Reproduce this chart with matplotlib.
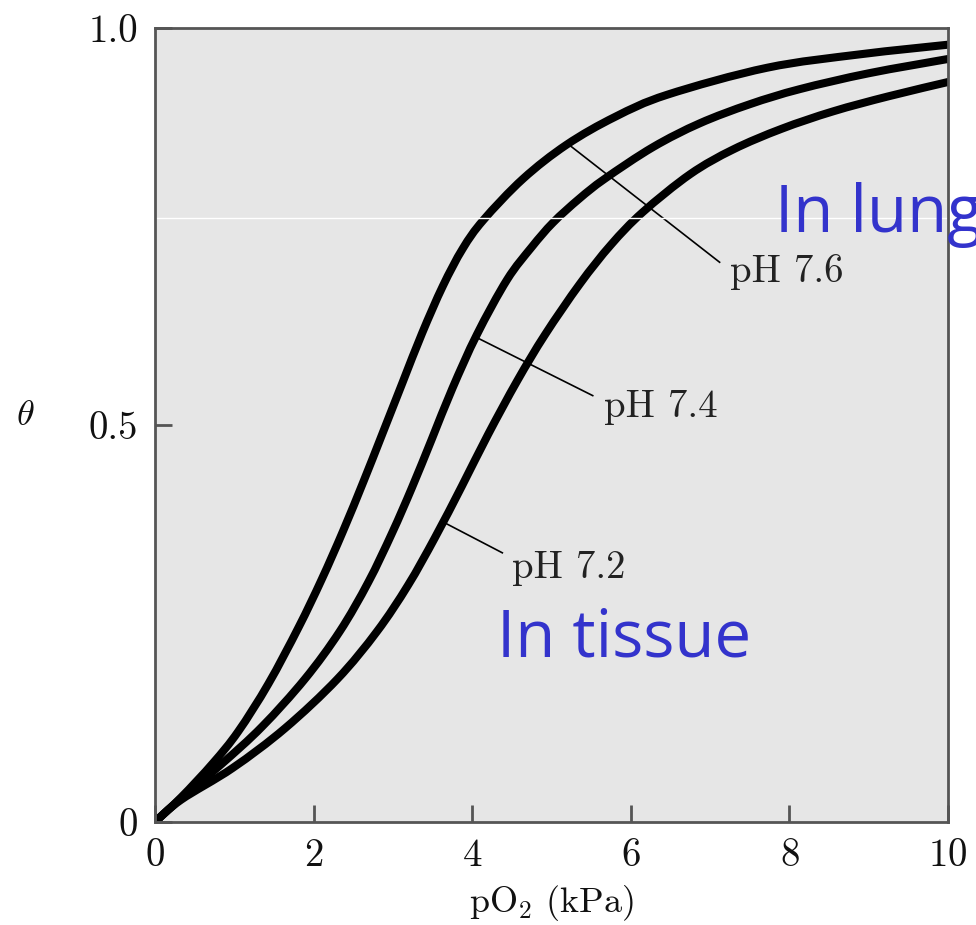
import matplotlib
matplotlib.use('Agg')
import matplotlib.pyplot as plt
from matplotlib.path import Path
from matplotlib.patches import PathPatch

# oxygen binding curves (pO2 in kPa, fractional saturation)
p_76 = [0, 0.33, 0.73, 1.05, 1.43, 1.81, 2.10, 2.37, 2.63, 2.86, 3.12, 3.37, 3.63, 3.88, 4.14, 4.64, 5.19, 5.80, 6.46, 7.72, 8.90, 10]
t_76 = [0, 0.031, 0.074, 0.114, 0.174, 0.245, 0.305, 0.366, 0.429, 0.487, 0.553, 0.616, 0.675, 0.722, 0.758, 0.810, 0.853, 0.888, 0.916, 0.950, 0.967, 0.979]

p_74 = [0, 0.33, 0.84, 1.35, 1.89, 2.33, 2.69, 2.99, 3.24, 3.49, 3.75, 4.06, 4.44, 4.75, 5.02, 5.35, 5.67, 6.28, 6.87, 7.50, 8.13, 9.00, 10]
t_74 = [0, 0.030, 0.073, 0.120, 0.180, 0.240, 0.302, 0.364, 0.421, 0.482, 0.546, 0.614, 0.683, 0.724, 0.755, 0.785, 0.810, 0.850, 0.880, 0.904, 0.923, 0.943, 0.961]

p_72 = [0, 0.33, 0.98, 1.64, 2.30, 2.80, 3.19, 3.53, 3.87, 4.20, 4.57, 4.92, 5.36, 5.75, 6.15, 6.75, 7.29, 7.90, 8.55, 9.25, 10]
t_72 = [0, 0.028, 0.068, 0.118, 0.180, 0.240, 0.298, 0.358, 0.423, 0.488, 0.556, 0.614, 0.678, 0.727, 0.768, 0.816, 0.847, 0.873, 0.895, 0.914, 0.932]

labels = ['pH 7.6', 'pH 7.4', 'pH 7.2']
# (curve point, line end) for each leader
leaders = [((5.22, 0.853), (7.12, 0.705)),
           ((4.06, 0.610), (5.52, 0.537)),
           ((3.63, 0.378), (4.38, 0.339))]
label_pos = [(7.25, 0.693), (5.66, 0.523), (4.50, 0.320)]


def smooth_path(xs, ys):
    # bezier segments through the read points (Catmull-Rom style handles)
    pts = list(zip(xs, ys))
    verts = [pts[0]]
    codes = [Path.MOVETO]
    n = len(pts)
    for i in range(n - 1):
        p0 = pts[max(i - 1, 0)]
        p1 = pts[i]
        p2 = pts[i + 1]
        p3 = pts[min(i + 2, n - 1)]
        c1 = (p1[0] + (p2[0] - p0[0]) / 6, p1[1] + (p2[1] - p0[1]) / 6)
        c2 = (p2[0] - (p3[0] - p1[0]) / 6, p2[1] - (p3[1] - p1[1]) / 6)
        verts += [c1, c2, p2]
        codes += [Path.CURVE4] * 3
    return Path(verts, codes)


plt.rcParams['mathtext.fontset'] = 'cm'
plt.rcParams['font.family'] = 'cmr10'
plt.rcParams['axes.formatter.use_mathtext'] = True

fig = plt.figure(figsize=(9.76, 9.25), dpi=100)
ax = fig.add_axes([0.1588, 0.1114, 0.8125, 0.8583])
ax.set_facecolor('#e6e6e6')

for p, t in [(p_76, t_76), (p_74, t_74), (p_72, t_72)]:
    ax.add_patch(PathPatch(smooth_path(p, t), fill=False, edgecolor='black', lw=5.8,
                           capstyle='round', joinstyle='round'))

for (a, b), lab, pos in zip(leaders, labels, label_pos):
    ax.plot([a[0], b[0]], [a[1], b[1]], color='black', lw=1.2)
    ax.text(pos[0], pos[1], lab, fontsize=28, va='center', ha='left', color='#222222')

# scan artefact line
ax.axhline(0.761, color='white', lw=1)

ax.text(7.82, 0.743, 'In lung', fontsize=47, color='#3333cc', family='Open Sans',
        va='baseline', ha='left', clip_on=False)
ax.text(4.31, 0.208, 'In tissue', fontsize=47, color='#3333cc', family='Open Sans',
        va='baseline', ha='left')

ax.set_xlim(0, 10)
ax.set_ylim(0, 1)
ax.set_xticks([0, 2, 4, 6, 8, 10])
ax.set_yticks([0, 0.5, 1.0])
ax.set_yticklabels(['0', '0.5', '1.0'])
ax.tick_params(direction='in', length=12, width=2, color='#555555', labelsize=28,
               labelcolor='#111111', pad=12)
for s in ax.spines.values():
    s.set_color('#555555')
    s.set_linewidth(2)

ax.set_xlabel(r'pO$_2$ (kPa)', fontsize=26, labelpad=6, color='#111111')
fig.text(0.016, 0.55, r'$\theta$', fontsize=26, va='center', ha='left', color='#111111')

fig.savefig('out.png', dpi=100)
